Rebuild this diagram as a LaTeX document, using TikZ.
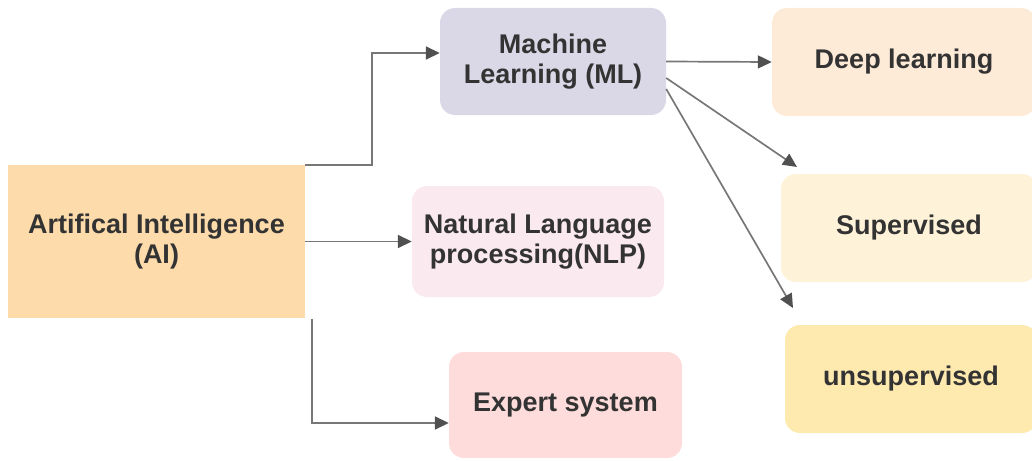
\documentclass[tikz,border=0pt]{standalone}
\usepackage{fontspec}
\setmainfont{Liberation Sans}
\usetikzlibrary{arrows.meta,positioning}
\definecolor{aifill}{HTML}{FDDBAA}
\definecolor{mlfill}{HTML}{DAD8E6}
\definecolor{nlpfill}{HTML}{FBE9F0}
\definecolor{expfill}{HTML}{FDDCDB}
\definecolor{deepfill}{HTML}{FDEBD8}
\definecolor{supfill}{HTML}{FEF3D9}
\definecolor{unsfill}{HTML}{FEE9AE}
\definecolor{textc}{HTML}{333333}
\definecolor{linec}{HTML}{777777}
\definecolor{tipc}{HTML}{505050}
\tikzset{
  box/.style={inner sep=0pt, align=center, text=textc,
    font=\fontsize{27}{29.5}\selectfont\bfseries},
  rbox/.style={box, rounded corners=15pt},
  link/.style={draw=linec, line width=1.7pt,
    -{Triangle[length=14pt,width=13pt,fill=tipc,color=tipc]}},
}
\begin{document}
\begin{tikzpicture}[x=1pt,y=-1pt]
  \useasboundingbox (0,0) rectangle (1032,460);
  \clip (0,0) rectangle (1032,460);

  % boxes (corner coordinates in a y-down frame)
  \node[box, fill=aifill, minimum width=297pt, minimum height=153pt]
    (ai) at (156.5,241.5) {Artifical Intelligence\\(AI)};
  \node[rbox, fill=mlfill, minimum width=226pt, minimum height=107pt]
    (ml) at (553,61.5) {Machine\\Learning (ML)};
  \node[rbox, fill=nlpfill, minimum width=252pt, minimum height=111pt]
    (nlp) at (538,241.5) {Natural Language\\processing(NLP)};
  \node[rbox, fill=expfill, minimum width=233pt, minimum height=106pt]
    (exp) at (565.5,405) {\raisebox{-2pt}{Expert system}};
  \node[rbox, fill=deepfill, minimum width=264pt, minimum height=108pt]
    (deep) at (904,62) {\raisebox{-2pt}{Deep learning}};
  \node[rbox, fill=supfill, minimum width=256pt, minimum height=108pt]
    (sup) at (909,228) {\raisebox{-2pt}{Supervised}};
  \node[rbox, fill=unsfill, minimum width=252pt, minimum height=108pt]
    (uns) at (911,379) {\raisebox{-2pt}{unsupervised}};

  % free ends of the two diagonal connectors
  \coordinate (supend) at (797,167);
  \coordinate (unsend) at (793,308);

  % connectors
  \draw[link] (ai.north east) -- ++(67,0) |- ([yshift=8.5pt]ml.west);
  \draw[link] (ai.east) -- (nlp.west);
  \draw[link] ([xshift=7pt,yshift=-1pt]ai.south east) |- ([yshift=-18pt]exp.west);
  \draw[link] (ml.east) -- (deep.west);
  \draw[link] ([yshift=-16.5pt]ml.east) -- (supend);
  \draw[link] ([yshift=-27.5pt]ml.east) -- (unsend);
\end{tikzpicture}
\end{document}
